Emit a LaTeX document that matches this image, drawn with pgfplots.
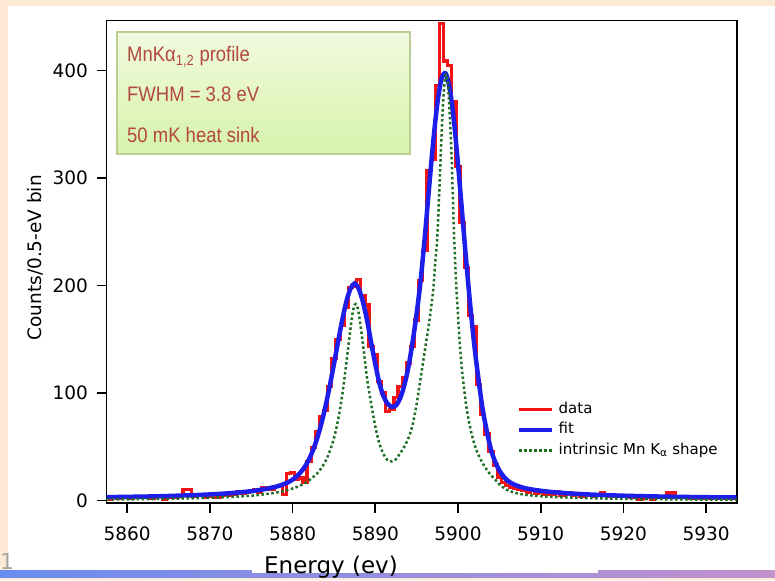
\documentclass[border=0pt]{standalone}
\usepackage{fontspec}
\setmainfont{DejaVu Sans}
\newfontfamily\boxfont[FakeStretch=0.88]{Liberation Sans}
\usepackage{pgfplots}
\usepackage{pgfplotstable}
\pgfplotsset{compat=1.18}

\definecolor{peach}{RGB}{253,233,212}
\definecolor{datared}{RGB}{240,20,20}
\definecolor{fitblue}{RGB}{30,30,235}
\definecolor{intgreen}{RGB}{30,110,35}
\definecolor{boxtext}{RGB}{178,72,62}
\definecolor{boxtop}{RGB}{242,250,224}
\definecolor{boxbot}{RGB}{214,242,170}
\definecolor{boxline}{RGB}{188,206,146}
\definecolor{bandl}{RGB}{105,140,240}
\definecolor{bandr}{RGB}{195,145,205}

\pgfplotstableread{
E C
5857.5 2
5858.0 1
5858.5 3
5859.0 2
5859.5 3
5860.0 3
5860.5 2
5861.0 4
5861.5 3
5862.0 3
5862.5 4
5863.0 2
5863.5 4
5864.0 5
5864.5 1
5865.0 3
5865.5 4
5866.0 3
5866.5 5
5867.0 10
5867.5 10
5868.0 4
5868.5 5
5869.0 5
5869.5 3
5870.0 4
5870.5 6
5871.0 3
5871.5 5
5872.0 6
5872.5 5
5873.0 6
5873.5 8
5874.0 7
5874.5 8
5875.0 9
5875.5 10
5876.0 8
5876.5 12
5877.0 12
5877.5 10
5878.0 13
5878.5 14
5879.0 6
5879.5 25
5880.0 26
5880.5 20
5881.0 21
5881.5 17
5882.0 36
5882.5 49
5883.0 64
5883.5 78
5884.0 84
5884.5 106
5885.0 132
5885.5 150
5886.0 163
5886.5 180
5887.0 198
5887.5 199
5888.0 206
5888.5 191
5889.0 182
5889.5 143
5890.0 136
5890.5 111
5891.0 100
5891.5 83
5892.0 85
5892.5 96
5893.0 106
5893.5 114
5894.0 128
5894.5 143
5895.0 168
5895.5 205
5896.0 233
5896.5 307
5897.0 317
5897.5 386
5898.0 444
5898.5 409
5899.0 405
5899.5 371
5900.0 311
5900.5 259
5901.0 217
5901.5 172
5902.0 162
5902.5 108
5903.0 80
5903.5 62
5904.0 46
5904.5 33
5905.0 22
5905.5 17
5906.0 14
5906.5 12
5907.0 11
5907.5 10
5908.0 9
5908.5 8
5909.0 9
5909.5 7
5910.0 8
5910.5 6
5911.0 7
5911.5 6
5912.0 8
5912.5 5
5913.0 6
5913.5 7
5914.0 5
5914.5 6
5915.0 4
5915.5 5
5916.0 6
5916.5 4
5917.0 5
5917.5 7
5918.0 5
5918.5 4
5919.0 5
5919.5 4
5920.0 5
5920.5 4
5921.0 3
5921.5 4
5922.0 1
5922.5 2
5923.0 3
5923.5 1
5924.0 3
5924.5 4
5925.0 3
5925.5 7
5926.0 7
5926.5 4
5927.0 3
5927.5 4
5928.0 2
5928.5 2
5929.0 3
5929.5 2
5930.0 3
5930.5 2
5931.0 3
5931.5 2
5932.0 3
5932.5 2
5933.0 3
5933.5 2
}\datatab

\pgfplotstableread{
E C
5857.5 3.1
5858 3.2
5860 3.45
5862 3.7
5864 4.0
5866 4.5
5868 5.0
5870 5.7
5872 6.6
5873 7.2
5874 7.9
5875 8.7
5875.5 9.25
5876 9.8
5876.5 10.45
5877 11.2
5877.5 12.0
5878 12.9
5878.5 14.05
5879 15.45
5879.5 17.2
5880 19.5
5880.5 22.5
5881 26.5
5881.5 31.7
5882 38.6
5882.5 47.5
5883 58.6
5883.5 72.2
5884 88.4
5884.5 106.8
5885 127.0
5885.5 147.8
5886 167.9
5886.5 185.1
5887 197.2
5887.5 202.0
5888 197.0
5888.5 185.0
5889 168.0
5889.5 147.0
5890 127.0
5890.5 109.0
5891 97.0
5891.5 90.0
5892 87.3
5892.5 88.5
5893 95.0
5893.5 107.0
5894 124.0
5894.5 147.0
5895 174.0
5895.5 206.0
5896 246.5
5896.5 290.8
5897 333.5
5897.5 369.3
5898 392.2
5898.5 397.4
5899 383.6
5899.5 353.7
5900 313.2
5900.5 267.8
5901 222.4
5901.5 180.0
5902 142.8
5902.5 111.6
5903 84.0
5903.5 64.0
5904 47.0
5904.5 36.0
5905 28.0
5905.5 22.5
5906 18.5
5906.5 16.0
5907 14.2
5907.5 12.8
5908 11.7
5908.5 10.9
5909 10.2
5909.5 9.6
5910 9.1
5911 8.2
5912 7.5
5913 6.9
5914 6.4
5916 5.6
5918 5.0
5920 4.5
5922 4.1
5924 3.8
5926 3.5
5928 3.3
5930 3.1
5932 3.0
5933.7 2.9
}\fittab

\pgfplotstableread{
E C
5857.5 1.0
5862 1.3
5866 1.8
5870 2.6
5874 4.0
5876 5.3
5878 7.4
5879 9.0
5880 11.2
5881 14.2
5882 18.8
5883 25.5
5883.5 30.5
5884 37
5884.5 46
5885 58
5885.5 75
5886 98
5886.5 128
5887 160
5887.25 174
5887.5 182
5887.75 182
5888 174
5888.5 146
5889 114
5889.5 90
5890 69
5890.5 53
5891 43
5891.5 37.5
5892 36.5
5892.5 38.5
5893 44
5893.5 50
5894 58
5894.5 70
5895 90
5895.5 115
5896 140
5896.5 165
5897 196
5897.25 222
5897.5 245
5897.75 290
5898 338
5898.25 377
5898.5 396
5898.75 389
5899 360
5899.25 315
5899.5 252
5899.75 207
5900 172
5900.25 143
5900.5 120
5901 88
5901.5 67
5902 52
5902.5 42
5903 34.5
5903.5 28.5
5904 23.5
5904.5 19.5
5905 15
5905.5 12
5906 9.5
5907 7
5908 5.5
5910 4
5912 3.2
5915 2.4
5920 1.6
5925 1.2
5930 0.9
5933.7 0.8
}\inttab

\begin{document}
\begin{tikzpicture}[x=1pt,y=1pt]
\useasboundingbox (0,0) rectangle (775,580);
\fill[peach] (0,0) rectangle (775,580);
\fill[white] (8,10) rectangle (775,574);
\shade[left color=bandl, right color=bandr] (0,3) rectangle (775,10);
\fill[white] (252,7.5) rectangle (598,10);
\node[text=gray!70, anchor=base west, inner sep=0pt, font=\fontsize{22}{24}\selectfont] at (0,11) {1};

\begin{axis}[
  at={(106.5pt,77.3pt)}, anchor=south west,
  scale only axis, width=630.2pt, height=482pt,
  xmin=5857.5, xmax=5933.7, ymin=-2, ymax=446.5,
  xtick={5860,5870,5880,5890,5900,5910,5920,5930},
  ytick={0,100,200,300,400},
  tick align=outside, tick pos=left,
  major tick length=10pt,
  tick style={black, line width=1.6pt},
  axis line style={black, line width=1.6pt},
  tick label style={font=\fontsize{18.5}{20}\selectfont},
  xticklabel style={yshift=-11pt},
  yticklabel style={xshift=-5pt},
  /pgf/number format/assume math mode=true,
  /pgf/number format/1000 sep={},
  xlabel={Energy (ev)},
  xlabel style={at={(axis description cs:0.3562,-0.1459)}, anchor=base, font=\fontsize{23}{25}\selectfont, inner sep=0pt},
  ylabel={Counts/0.5-eV bin},
  ylabel style={at={(axis description cs:-0.1135,0.508)}, anchor=center, font=\fontsize{18.5}{20}\selectfont},
  legend style={at={(axis description cs:0.6514,0.2131)}, anchor=north west, draw=none, fill=none,
    font=\fontsize{15}{17}\selectfont, inner sep=0pt, row sep=2pt, column sep=2pt,
    nodes={inner sep=2pt, text height=11pt, text depth=3.5pt}},
  legend cell align=left,
  legend image code/.code={\draw[#1] (0pt,0pt) -- (33pt,0pt);},
]
\addplot[datared, line width=3.2pt, const plot mark mid] table[x=E,y=C] {\datatab};
\addlegendentry{data}
\addplot[fitblue, line width=4.5pt, smooth] table[x=E,y=C] {\fittab};
\addlegendentry{fit}
\addplot[intgreen, line width=2.5pt, dash pattern=on 2.5pt off 2.5pt, smooth] table[x=E,y=C] {\inttab};
\addlegendentry{intrinsic Mn K\textsubscript{α} shape}
\end{axis}

\shade[top color=boxtop, bottom color=boxbot, draw=boxline, line width=1.2pt] (117,426) rectangle (410,548);
\node[anchor=base west, inner sep=0pt, text=boxtext, font=\fontsize{21}{24}\boxfont] at (127,518) {MnKα\textsubscript{1,2} profile};
\node[anchor=base west, inner sep=0pt, text=boxtext, font=\fontsize{21}{24}\boxfont] at (127,478) {FWHM = 3.8 eV};
\node[anchor=base west, inner sep=0pt, text=boxtext, font=\fontsize{21}{24}\boxfont] at (127,437) {50 mK heat sink};
\end{tikzpicture}
\end{document}
